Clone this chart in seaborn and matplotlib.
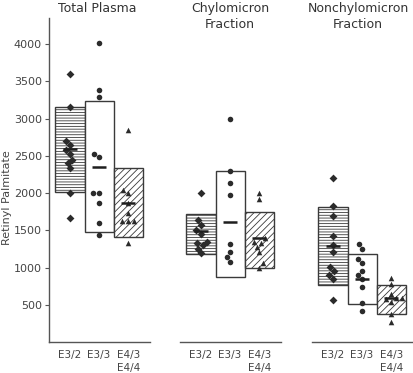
import numpy as np
import pandas as pd
import matplotlib
matplotlib.use("Agg")
import matplotlib.pyplot as plt
import seaborn as sns

# ---------------- data ----------------
groups = ["E3/2", "E3/3", "E4/3\nE4/4"]
panel_titles = ["Total Plasma", "Chylomicron\nFraction", "Nonchylomicron\nFraction"]

# box ranges (bottom, top) and mean markers per panel
total_bottom = [2015, 1480, 1410]
total_top = [3155, 3230, 2330]
total_mean = [2590, 2350, 1865]

chylo_bottom = [1180, 875, 1000]
chylo_top = [1725, 2295, 1740]
chylo_mean = [1490, 1610, 1390]

nonchylo_bottom = [770, 509, 371]
nonchylo_top = [1810, 1176, 764]
nonchylo_mean = [1295, 842, 586]

# individual values
total_e32 = [3600, 3150, 2700, 2650, 2580, 2520, 2450, 2400, 2330, 2000, 1660]
total_e33 = [4020, 3390, 3290, 2520, 2480, 2000, 1995, 1865, 1600, 1430]
total_e43 = [2840, 2040, 2000, 1865, 1730, 1625, 1625, 1625, 1330]

chylo_e32 = [2000, 1635, 1570, 1500, 1455, 1345, 1330, 1300, 1255, 1190]
chylo_e33 = [3000, 2300, 2140, 1970, 1320, 1210, 1145, 1080]
chylo_e43 = [1995, 1915, 1390, 1345, 1330, 1280, 1210, 1055, 1000]

nonchylo_e32 = [2200, 1820, 1690, 1420, 1300, 1210, 1010, 950, 900, 840, 565]
nonchylo_e33 = [1310, 1245, 1110, 1055, 955, 900, 845, 740, 520, 415]
nonchylo_e43 = [865, 785, 645, 590, 585, 580, 540, 375, 272]

y_ticks = [500, 1000, 1500, 2000, 2500, 3000, 3500, 4000]
y_label = "Retinyl Palmitate"

panels = [
    (total_bottom, total_top, total_mean, [total_e32, total_e33, total_e43]),
    (chylo_bottom, chylo_top, chylo_mean, [chylo_e32, chylo_e33, chylo_e43]),
    (nonchylo_bottom, nonchylo_top, nonchylo_mean, [nonchylo_e32, nonchylo_e33, nonchylo_e43]),
]

# ---------------- style ----------------
sns.set_theme(style="white")
plt.rcParams["font.family"] = ["DejaVu Sans"]
plt.rcParams["hatch.linewidth"] = 0.6
plt.rcParams["hatch.color"] = "#555555"
ink = "#3a3a3a"
markers = ["D", "o", "^"]
hatches = ["------", "", "/////"]

W, H = 413, 373
fig = plt.figure(figsize=(W / 100, H / 100), dpi=100)
lefts = [49, 180, 312]
axw = 101
title_x = [97, 230, 358]
y0 = 342
ytop = 18

for k, (bottom, top, mean, vals) in enumerate(panels):
    ax = fig.add_axes([lefts[k] / W, (H - y0) / H, axw / W, (y0 - ytop) / H])
    rows = []
    for g, v in zip(groups, vals):
        for val in v:
            rows.append({"group": g, "value": val})
    df = pd.DataFrame(rows)

    heights = np.array(top) - np.array(bottom)
    for i in range(3):
        ax.bar(i, heights[i], bottom=bottom[i], width=1.0, facecolor="white",
               edgecolor=ink, linewidth=1.0, hatch=hatches[i], zorder=1)
    for i, g in enumerate(groups):
        sub = df[df["group"] == g]
        sns.swarmplot(data=sub, x="group", y="value", order=groups, ax=ax,
                      marker=markers[i], color="#2b2b2b", size=4.0,
                      linewidth=0, zorder=3)
    ax.hlines(mean, np.arange(3) - 0.24, np.arange(3) + 0.24, color="#1e1e1e",
              linewidth=1.8, zorder=4)

    ax.set_xlim(-0.72, 2.75)
    ax.set_ylim(0, 4350)
    ax.set_xlabel("")
    ax.set_ylabel("")
    ax.set_xticks(range(3))
    ax.set_xticklabels(groups, fontsize=7.5, color="#444444", linespacing=1.3,
                       va="top")
    ax.tick_params(axis="x", length=0, pad=6)
    for s in ["top", "right"]:
        ax.spines[s].set_visible(False)
    ax.spines["bottom"].set_color("#555555")
    ax.spines["bottom"].set_linewidth(1.0)
    if k == 0:
        ax.spines["left"].set_color("#555555")
        ax.spines["left"].set_linewidth(1.0)
        ax.set_yticks(y_ticks)
        ax.set_yticklabels([str(t) for t in y_ticks], fontsize=8, color="#444444")
        ax.tick_params(axis="y", length=3, width=0.8, color="#555555", pad=2,
                       left=True)
    else:
        ax.spines["left"].set_visible(False)
        ax.set_yticks([])
    fig.text(title_x[k] / W, (H - 2) / H, panel_titles[k],
             ha="center", va="top", fontsize=9, color="#333333",
             linespacing=1.35)

fig.text(7 / W, (H - 198) / H, y_label, rotation=90, ha="center", va="center",
         fontsize=8, color="#444444")

fig.savefig("out.png", dpi=100)
